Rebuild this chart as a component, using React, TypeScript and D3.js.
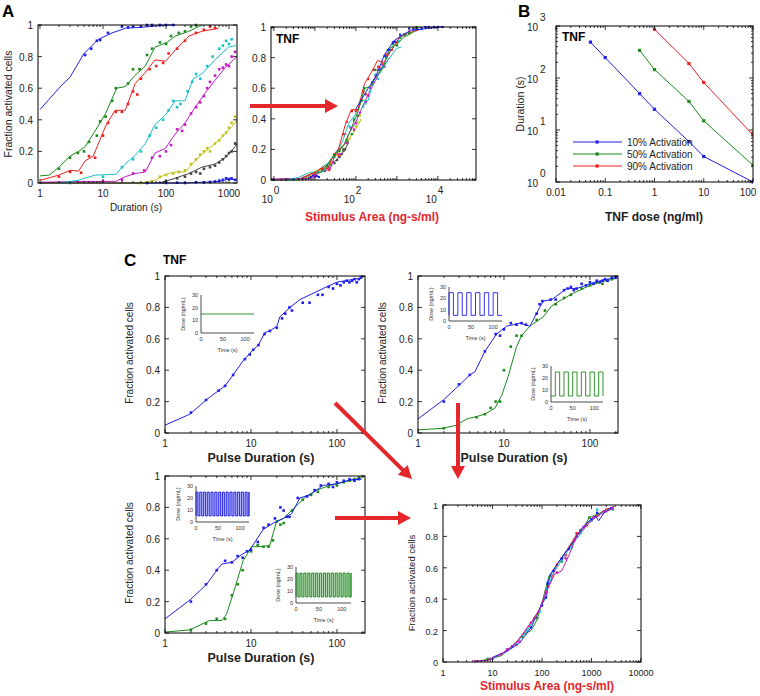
import React from "react";
import * as d3 from "d3";

type Pt = [number, number];
type Lbl = { v: number; t: string; sup?: string };

const FONT = "'Liberation Sans', Arial, Helvetica, sans-serif";
const RED = "#e5262b";
const BLUE = "#2020e8";
const GREEN = "#1b8a1b";
const CRED = "#ee2020";
const CYAN = "#1cc0c8";
const MAGENTA = "#c41cc4";
const YELLOW = "#c2c21a";
const BLACK = "#444444";

// ---------------- Panel A: fraction activated vs duration (8 TNF doses, ng/ml) ----------------
const aDoses = [100, 10, 5, 1, 0.5, 0.1, 0.05, 0.01];
const aColors = [BLUE, GREEN, CRED, CYAN, MAGENTA, YELLOW, BLACK, BLUE];

const aLineBlueHi: Pt[] = [[1, 0.465], [2, 0.6], [3, 0.67], [5, 0.82], [8.5, 0.91], [14, 0.95], [23, 0.98], [40, 0.985], [100, 1.0], [140, 1.0]];
const aDotsBlueHi: Pt[] = [[5.2, 0.81], [6.5, 0.85], [8, 0.9], [9, 0.905], [12, 0.95], [20, 0.99], [25, 0.985], [30, 0.99], [40, 0.99], [50, 1], [60, 1], [80, 1], [100, 1], [130, 1]];
const aLineGreen: Pt[] = [[1, 0.045], [1.4, 0.05], [2, 0.1], [3, 0.17], [4.1, 0.2], [5.2, 0.23], [7.5, 0.33], [11, 0.44], [16.5, 0.6], [22.5, 0.61], [32, 0.68], [47, 0.74], [67, 0.86], [104, 0.89], [140, 0.93], [230, 0.96], [370, 1.0]];
const aDotsGreen: Pt[] = [[2, 0.09], [3, 0.16], [4, 0.19], [5, 0.2], [6, 0.26], [8, 0.3], [9, 0.39], [11, 0.42], [14, 0.52], [16, 0.6], [25, 0.63], [30, 0.72], [38, 0.72], [50, 0.81], [60, 0.85], [80, 0.89], [100, 0.88], [120, 0.93], [160, 0.95], [200, 0.96], [250, 0.99], [300, 1.0]];
const aLineRed: Pt[] = [[1, 0.017], [2, 0.05], [3, 0.08], [4.1, 0.075], [5.2, 0.14], [7, 0.17], [11, 0.36], [15.5, 0.46], [22.5, 0.46], [32.5, 0.63], [47, 0.7], [67, 0.78], [98, 0.77], [140, 0.84], [230, 0.93], [370, 0.96], [680, 0.98]];
const aDotsRed: Pt[] = [[2, 0.04], [3, 0.07], [4.5, 0.065], [6, 0.17], [7.5, 0.16], [10, 0.3], [12, 0.38], [16, 0.45], [20, 0.45], [25, 0.5], [30, 0.58], [35, 0.56], [40, 0.66], [55, 0.72], [70, 0.74], [90, 0.76], [110, 0.82], [150, 0.85], [200, 0.9], [300, 0.95], [400, 0.97], [500, 0.99], [600, 0.98]];
const aLineCyan: Pt[] = [[2, 0], [4, 0.017], [7.5, 0.05], [16, 0.055], [22.5, 0.12], [32.5, 0.175], [47, 0.25], [67, 0.37], [98, 0.43], [140, 0.52], [200, 0.52], [270, 0.66], [370, 0.69], [600, 0.78], [980, 0.86], [1300, 0.87]];
const aDotsCyan: Pt[] = [[3, 0], [10, 0.04], [20, 0.1], [30, 0.15], [40, 0.2], [55, 0.3], [70, 0.35], [90, 0.4], [110, 0.46], [130, 0.52], [150, 0.48], [170, 0.5], [220, 0.58], [260, 0.64], [300, 0.69], [350, 0.66], [450, 0.74], [550, 0.8], [700, 0.85], [800, 0.87], [900, 0.9], [1000, 0.88], [1100, 0.91]];
const aLineMagenta: Pt[] = [[1, 0.005], [5, 0.01], [16, 0.01], [22.5, 0.04], [32.5, 0.06], [47, 0.07], [67, 0.19], [98, 0.22], [140, 0.31], [200, 0.38], [290, 0.48], [420, 0.57], [600, 0.65], [870, 0.73], [1250, 0.79], [1340, 0.8]];
const aDotsMagenta: Pt[] = [[10, 0.01], [20, 0.02], [30, 0.06], [45, 0.08], [60, 0.16], [80, 0.17], [100, 0.2], [120, 0.24], [150, 0.34], [180, 0.33], [200, 0.37], [250, 0.44], [300, 0.48], [350, 0.51], [400, 0.55], [450, 0.6], [500, 0.64], [600, 0.68], [700, 0.72], [800, 0.73], [900, 0.75], [1000, 0.74], [1100, 0.8], [1250, 0.83]];
const aLineYellow: Pt[] = [[1, 0], [30, 0], [47, 0.005], [67, 0.017], [98, 0.055], [140, 0.07], [200, 0.07], [290, 0.14], [420, 0.2], [600, 0.25], [870, 0.31], [1250, 0.38], [1340, 0.4]];
const aDotsYellow: Pt[] = [[40, 0], [60, 0.01], [80, 0.04], [100, 0.05], [130, 0.06], [160, 0.07], [200, 0.08], [250, 0.12], [300, 0.15], [350, 0.18], [400, 0.2], [450, 0.22], [500, 0.2], [600, 0.25], [700, 0.27], [800, 0.3], [900, 0.32], [1000, 0.35], [1100, 0.38], [1250, 0.42]];
const aLineBlack: Pt[] = [[80, 0], [140, 0.03], [230, 0.06], [370, 0.1], [600, 0.12], [870, 0.16], [1250, 0.23], [1340, 0.25]];
const aDotsBlack: Pt[] = [[100, 0.01], [150, 0.03], [200, 0.04], [250, 0.06], [300, 0.07], [350, 0.06], [400, 0.09], [500, 0.1], [600, 0.11], [700, 0.13], [800, 0.15], [900, 0.17], [1000, 0.19], [1100, 0.2], [1250, 0.25]];
const aLineBlueLo: Pt[] = [[1, 0], [200, 0], [400, 0.005], [700, 0.01], [1000, 0.025], [1340, 0.02]];
const aDotsBlueLo: Pt[] = [[50, 0], [100, 0], [150, 0.002], [200, 0], [300, 0.005], [400, 0.004], [500, 0.006], [600, 0.01], [700, 0.015], [800, 0.02], [900, 0.03], [1000, 0.025], [1100, 0.03], [1250, 0.02]];

const aLines = [aLineBlueHi, aLineGreen, aLineRed, aLineCyan, aLineMagenta, aLineYellow, aLineBlack, aLineBlueLo];
const aDots = [aDotsBlueHi, aDotsGreen, aDotsRed, aDotsCyan, aDotsMagenta, aDotsYellow, aDotsBlack, aDotsBlueLo];

// ---------------- Panel B: duration needed vs TNF dose ----------------
const bDose10 = [0.05, 0.1, 0.5, 1, 5, 10, 100];
const bDur10 = [490, 247, 50, 25, 6, 3.1, 1];
const bDose50 = [0.5, 1, 5, 10, 100];
const bDur50 = [340, 145, 35.5, 15, 2.1];
const bDose90 = [1, 5, 10, 100];
const bDur90 = [865, 190, 82, 8];
const bLegend = ["10% Activation", "50% Activation", "90% Activation"];

// ---------------- Panel C: pulse duration ----------------
const cTLBlue: Pt[] = [[1, 0.05], [1.95, 0.12], [3, 0.21], [4.2, 0.27], [5, 0.3], [6.2, 0.37], [8.1, 0.46], [10.6, 0.53], [12.2, 0.56], [14.5, 0.64], [16.6, 0.65], [20, 0.68], [21.7, 0.74], [28.5, 0.8], [37, 0.85], [48.5, 0.88], [69, 0.92], [99, 0.96], [141, 0.975], [186, 0.985]];
const cTLBlueDots: Pt[] = [[2, 0.13], [3, 0.21], [4.2, 0.27], [5, 0.3], [6.2, 0.37], [8.5, 0.47], [9.7, 0.5], [10.6, 0.53], [12.2, 0.56], [14.4, 0.63], [16.6, 0.65], [20, 0.67], [23, 0.73], [25, 0.76], [28, 0.8], [30, 0.78], [40, 0.83], [48, 0.83], [60, 0.88], [68, 0.88], [80, 0.93], [90, 0.92], [100, 0.95], [110, 0.94], [120, 0.96], [130, 0.97], [140, 0.96], [150, 0.97], [160, 0.98], [170, 0.96], [180, 0.98], [190, 0.99]];
const cTRBlue: Pt[] = [[1, 0.09], [1.97, 0.21], [3.1, 0.31], [4, 0.37], [4.6, 0.39], [6, 0.52], [8.2, 0.63], [10.7, 0.68], [15.4, 0.7], [20, 0.68], [26, 0.8], [28.6, 0.84], [36, 0.85], [53.5, 0.92], [70, 0.92], [100, 0.95], [143, 0.975], [204, 0.99]];
const cTRBlueDots: Pt[] = [[2, 0.2], [3, 0.31], [4, 0.37], [6, 0.52], [8, 0.63], [9, 0.62], [10, 0.66], [12, 0.7], [14, 0.69], [16, 0.7], [18, 0.69], [24, 0.76], [26, 0.82], [28, 0.84], [35, 0.85], [40, 0.85], [50, 0.91], [55, 0.92], [60, 0.93], [65, 0.91], [70, 0.92], [80, 0.95], [90, 0.94], [100, 0.96], [110, 0.95], [120, 0.97], [130, 0.96], [140, 0.97], [150, 0.98], [160, 0.97], [180, 0.99], [200, 0.99]];
const cTRGreen: Pt[] = [[1, 0.02], [1.97, 0.03], [2.8, 0.05], [3.7, 0.09], [4.8, 0.105], [6, 0.12], [7.9, 0.16], [9.4, 0.24], [11.2, 0.36], [14, 0.55], [16, 0.62], [20, 0.68], [28.6, 0.74], [36, 0.81], [47, 0.85], [64, 0.89], [100, 0.94], [143, 0.965], [204, 0.985]];
const cTRGreenDots: Pt[] = [[2, 0.03], [3, 0.05], [4.8, 0.1], [6, 0.12], [7, 0.16], [8, 0.2], [9, 0.2], [10, 0.4], [12, 0.55], [14, 0.62], [16, 0.62], [24, 0.72], [30, 0.78], [40, 0.82], [50, 0.86], [60, 0.88], [80, 0.92], [100, 0.94], [120, 0.96], [140, 0.95], [160, 0.97], [180, 0.98], [200, 0.99]];
const cBLBlue: Pt[] = [[1, 0.09], [1.95, 0.21], [3.05, 0.31], [4, 0.4], [4.6, 0.44], [6, 0.45], [7.8, 0.5], [9.7, 0.53], [13.9, 0.66], [18.2, 0.7], [23.9, 0.73], [29.7, 0.76], [37, 0.86], [48.5, 0.88], [69, 0.94], [99, 0.95], [141, 0.975], [194, 0.98]];
const cBLBlueDots: Pt[] = [[2, 0.2], [3, 0.31], [4, 0.4], [5, 0.46], [6, 0.45], [7, 0.49], [8, 0.48], [9, 0.52], [10, 0.53], [12, 0.58], [14, 0.67], [16, 0.69], [19, 0.73], [22, 0.8], [24, 0.78], [26, 0.74], [28, 0.74], [35, 0.86], [45, 0.87], [55, 0.91], [65, 0.94], [80, 0.95], [90, 0.93], [100, 0.96], [120, 0.97], [140, 0.98], [160, 0.97], [180, 0.98]];
const cBLGreen: Pt[] = [[1, 0.006], [1.95, 0.02], [3.3, 0.08], [4.6, 0.08], [5.2, 0.12], [6.2, 0.25], [8.1, 0.46], [10.2, 0.55], [13.9, 0.55], [16.6, 0.56], [19.8, 0.71], [23.9, 0.73], [31, 0.79], [44, 0.87], [58, 0.91], [83, 0.94], [118, 0.96], [194, 0.99]];
const cBLGreenDots: Pt[] = [[2, 0.02], [3, 0.06], [4, 0.09], [5, 0.09], [6, 0.24], [7, 0.31], [8, 0.4], [10, 0.52], [12, 0.56], [14, 0.55], [16, 0.55], [18, 0.59], [20, 0.71], [22, 0.69], [24, 0.7], [30, 0.78], [40, 0.85], [50, 0.88], [60, 0.9], [80, 0.93], [100, 0.94], [120, 0.96], [140, 0.97], [160, 0.98], [180, 0.99]];

// collapse in C: fraction vs stimulus area (ng-s/ml)
const collBlue: Pt[] = [[10, 0.03], [20, 0.07], [35, 0.12], [60, 0.22], [100, 0.37], [125, 0.42], [130, 0.5], [150, 0.56], [200, 0.62], [300, 0.7], [400, 0.75], [600, 0.84], [900, 0.9], [1200, 0.93], [1400, 0.9], [1800, 0.95], [2500, 0.98]];
const collGreen: Pt[] = [[5, 0.005], [9, 0.02], [15, 0.04], [25, 0.1], [40, 0.17], [60, 0.2], [80, 0.27], [100, 0.38], [140, 0.55], [200, 0.62], [300, 0.7], [450, 0.78], [700, 0.86], [900, 0.92], [1300, 0.94], [2000, 0.97], [2800, 0.99]];
const collRed: Pt[] = [[8, 0.01], [15, 0.05], [25, 0.1], [40, 0.17], [60, 0.25], [90, 0.34], [130, 0.47], [200, 0.62], [300, 0.7], [500, 0.81], [800, 0.88], [1200, 0.93], [2000, 0.97], [2800, 0.99]];
const collCyan: Pt[] = [[10, 0.02], [20, 0.07], [30, 0.12], [50, 0.2], [80, 0.3], [110, 0.4], [140, 0.53], [200, 0.6], [350, 0.72], [550, 0.8], [900, 0.89], [1400, 0.94], [2200, 0.97], [2800, 0.98]];
const collMagenta: Pt[] = [[4.5, 0.005], [8, 0.01], [15, 0.05], [30, 0.12], [50, 0.22], [80, 0.3], [120, 0.44], [180, 0.56], [250, 0.58], [350, 0.68], [500, 0.8], [800, 0.87], [1300, 0.93], [2000, 0.96], [2800, 0.98]];
const collBlueDots: Pt[] = [[25, 0.1], [60, 0.22], [100, 0.36], [120, 0.41], [130, 0.5], [170, 0.58], [250, 0.66], [350, 0.72], [500, 0.8], [700, 0.86], [1000, 0.91], [1300, 0.95], [1800, 0.96], [2500, 0.98]];
const collGreenDots: Pt[] = [[8, 0.02], [20, 0.08], [40, 0.16], [80, 0.28], [150, 0.55], [250, 0.64], [400, 0.75], [600, 0.84], [900, 0.92], [1400, 0.94], [2200, 0.97]];
const collRedDots: Pt[] = [[15, 0.05], [30, 0.11], [60, 0.25], [120, 0.45], [200, 0.62], [300, 0.68], [500, 0.82], [800, 0.87], [1300, 0.93], [2000, 0.97], [2700, 0.98]];
const collCyanDots: Pt[] = [[10, 0.02], [30, 0.12], [50, 0.2], [90, 0.32], [130, 0.5], [150, 0.52], [250, 0.65], [400, 0.73], [600, 0.82], [1000, 0.9], [1300, 0.97], [2000, 0.96], [2700, 0.97]];
const collMagentaDots: Pt[] = [[4.5, 0.005], [9, 0.02], [20, 0.08], [35, 0.13], [70, 0.28], [120, 0.44], [200, 0.57], [300, 0.66], [450, 0.78], [700, 0.86], [1100, 0.92], [1800, 0.96], [2600, 0.98]];
const collLines = [collGreen, collRed, collCyan, collBlue, collMagenta];
const collDots = [collGreenDots, collRedDots, collCyanDots, collBlueDots, collMagentaDots];
const collColors = [GREEN, CRED, CYAN, BLUE, MAGENTA];

const fracTicks = [0, 0.2, 0.4, 0.6, 0.8, 1];
const durLabels = [1, 10, 100, 1000];
const pulseLabels = [1, 10, 100];
const areaLabels = [1, 10, 100, 1000, 10000];
const doseLabels = ["0.01", "0.1", "1", "10", "100"];

// inset dose schedules (ng/mL vs time s)
const insetTicksY = [0, 10, 20, 30];
const insetTicksX = [0, 50, 100];

// ---------------- helpers ----------------
function decades(dom: [number, number]) {
  const lo = Math.ceil(Math.log10(dom[0]) - 1e-9);
  const hi = Math.floor(Math.log10(dom[1]) + 1e-9);
  return d3.range(lo, hi + 1).map((e) => Math.pow(10, e));
}
function minors(dom: [number, number]) {
  const out: number[] = [];
  const lo = Math.floor(Math.log10(dom[0]));
  const hi = Math.ceil(Math.log10(dom[1]));
  for (let e = lo; e <= hi; e++)
    for (let k = 2; k <= 9; k++) {
      const v = k * Math.pow(10, e);
      if (v > dom[0] && v < dom[1]) out.push(v);
    }
  return out;
}

type PanelProps = {
  id: string;
  x: number; y: number; w: number; h: number;
  xDomain: [number, number]; yDomain: [number, number]; yLog?: boolean;
  xLabels: Lbl[]; yLabels: Lbl[];
  fs: number;
  xLabelMax?: number;
  children: (sx: any, sy: any) => React.ReactNode;
};

function Panel(p: PanelProps) {
  const { id, x, y, w, h, xDomain, yDomain, yLog, fs } = p;
  const sx = d3.scaleLog().domain(xDomain).range([x, x + w]);
  const sy: any = (yLog ? d3.scaleLog() : d3.scaleLinear()).domain(yDomain).range([y + h, y]);
  const xMaj = decades(xDomain);
  const xMin = minors(xDomain);
  const yMaj = yLog ? decades(yDomain) : p.yLabels.map((l) => l.v);
  const yMin = yLog ? minors(yDomain) : [];
  const tk = 4, tm = 2;
  const lx = (v: number) => (p.xLabelMax !== undefined ? Math.min(sx(v), p.xLabelMax) : sx(v));
  return (
    <g>
      <defs>
        <clipPath id={id}>
          <rect x={x} y={y - 2} width={w} height={h + 4} />
        </clipPath>
      </defs>
      <g clipPath={`url(#${id})`}>{p.children(sx, sy)}</g>
      <rect x={x} y={y} width={w} height={h} fill="none" stroke="#000" strokeWidth={1} />
      <g stroke="#000" strokeWidth={0.8}>
        {xMaj.map((v) => (
          <g key={"xM" + v}>
            <line x1={sx(v)} x2={sx(v)} y1={y + h} y2={y + h - tk} />
            <line x1={sx(v)} x2={sx(v)} y1={y} y2={y + tk} />
          </g>
        ))}
        {xMin.map((v) => (
          <g key={"xm" + v}>
            <line x1={sx(v)} x2={sx(v)} y1={y + h} y2={y + h - tm} />
            <line x1={sx(v)} x2={sx(v)} y1={y} y2={y + tm} />
          </g>
        ))}
        {yMaj.map((v) => (
          <g key={"yM" + v}>
            <line x1={x} x2={x + tk} y1={sy(v)} y2={sy(v)} />
            <line x1={x + w} x2={x + w - tk} y1={sy(v)} y2={sy(v)} />
          </g>
        ))}
        {yMin.map((v) => (
          <g key={"ym" + v}>
            <line x1={x} x2={x + tm} y1={sy(v)} y2={sy(v)} />
            <line x1={x + w} x2={x + w - tm} y1={sy(v)} y2={sy(v)} />
          </g>
        ))}
      </g>
      <g fontSize={fs} fill="#222">
        {p.xLabels.map((l) =>
          l.sup !== undefined ? (
            <g key={"xl" + l.v}>
              <text x={sx(l.v) - 1} y={y + h + 23} textAnchor="end">{l.t}</text>
              <text x={sx(l.v)} y={y + h + 14} fontSize={fs}>{l.sup}</text>
            </g>
          ) : (
            <text key={"xl" + l.v} x={lx(l.v)} y={y + h + 14} textAnchor="middle">{l.t}</text>
          )
        )}
        {p.yLabels.map((l) =>
          l.sup !== undefined ? (
            <g key={"yl" + l.v}>
              <text x={x - 18} y={sy(l.v) + 5} textAnchor="end">{l.t}</text>
              <text x={x - 16} y={sy(l.v) - 5} fontSize={fs}>{l.sup}</text>
            </g>
          ) : (
            <text key={"yl" + l.v} x={x - 5} y={sy(l.v) + 4} textAnchor="end">{l.t}</text>
          )
        )}
      </g>
    </g>
  );
}

function Series({ sx, sy, line, dots, color, r = 1.3 }: { sx: any; sy: any; line: Pt[]; dots?: Pt[]; color: string; r?: number }) {
  const gen = d3.line<Pt>().x((d) => sx(d[0])).y((d) => sy(d[1]));
  return (
    <g>
      <path d={gen(line) || ""} fill="none" stroke={color} strokeWidth={1} />
      {(dots || []).map((d, i) => (
        <rect key={i} x={sx(d[0]) - r} y={sy(d[1]) - r} width={2 * r} height={2 * r} fill={color} />
      ))}
    </g>
  );
}

type InsetSpec = { x: number; yb: number; w: number; h: number; color: string; steady?: number; high?: number; low?: number; period?: number; startHigh?: boolean; band?: boolean };

function Inset({ s }: { s: InsetSpec }) {
  const tx = d3.scaleLinear().domain([0, 120]).range([s.x, s.x + s.w]);
  const ty = d3.scaleLinear().domain([0, 30]).range([s.yb, s.yb - s.h]);
  let pts: Pt[] = [];
  if (s.steady !== undefined) {
    pts = [[0, s.steady], [120, s.steady]];
  } else {
    const half = (s.period as number) / 2;
    let on = !!s.startHigh;
    pts.push([0, s.low as number]);
    for (let t = 0; t < 120 - 1e-6; t += half) {
      const lv = on ? (s.high as number) : (s.low as number);
      const te = Math.min(120, t + half);
      pts.push([t, lv]);
      pts.push([te, lv]);
      on = !on;
    }
    pts.push([120, s.low as number]);
  }
  const gen = d3.line<Pt>().x((d) => tx(d[0])).y((d) => ty(d[1]));
  return (
    <g fontSize={5.5} fill="#333">
      {s.band && (
        <rect x={tx(0)} y={ty(s.high as number)} width={tx(120) - tx(0)} height={ty(s.low as number) - ty(s.high as number)} fill={s.color} opacity={0.28} />
      )}
      <line x1={s.x} x2={s.x} y1={s.yb} y2={s.yb - s.h} stroke="#000" strokeWidth={0.7} />
      <line x1={s.x} x2={s.x + s.w} y1={s.yb} y2={s.yb} stroke="#000" strokeWidth={0.7} />
      {insetTicksY.map((v) => (
        <text key={"y" + v} x={s.x - 3} y={ty(v) + 2} textAnchor="end">{v}</text>
      ))}
      {insetTicksX.map((v) => (
        <text key={"x" + v} x={tx(v)} y={s.yb + 8} textAnchor="middle">{v}</text>
      ))}
      <text x={tx(60)} y={s.yb + 19} textAnchor="middle">Time (s)</text>
      <text transform={`translate(${s.x - 16},${s.yb - s.h / 2}) rotate(-90)`} textAnchor="middle">Dose (ng/mL)</text>
      <path d={gen(pts) || ""} fill="none" stroke={s.color} strokeWidth={0.9} />
    </g>
  );
}

function Arrow({ x1, y1, x2, y2 }: { x1: number; y1: number; x2: number; y2: number }) {
  const L = Math.hypot(x2 - x1, y2 - y1);
  const ux = (x2 - x1) / L, uy = (y2 - y1) / L;
  const hl = 13, hw = 7;
  const bx = x2 - ux * hl, by = y2 - uy * hl;
  const px = -uy, py = ux;
  return (
    <g>
      <line x1={x1} y1={y1} x2={bx + ux} y2={by + uy} stroke={RED} strokeWidth={4} />
      <polygon points={`${x2},${y2} ${bx + px * hw},${by + py * hw} ${bx - px * hw},${by - py * hw}`} fill={RED} />
    </g>
  );
}

const fracLabels: Lbl[] = fracTicks.map((v) => ({ v, t: String(v) }));

export default function App() {
  const yLab = (x: number, y: number, fs: number, txt: string) => (
    <text transform={`translate(${x},${y}) rotate(-90)`} textAnchor="middle" fontSize={fs} fill="#222">{txt}</text>
  );
  return (
    <svg width={760} height={696} style={{ position: "absolute", left: 0, top: 0, background: "#fff" }} fontFamily={FONT}>
      <rect width={760} height={696} fill="#fff" />
      {/* Panel labels */}
      <text x={2} y={17} fontSize={17} fontWeight="bold">A</text>
      <text x={518} y={17} fontSize={17} fontWeight="bold">B</text>
      <text x={124} y={266} fontSize={17} fontWeight="bold">C</text>

      {/* A left */}
      <Panel id="aL" x={38} y={25} w={199} h={158} xDomain={[0.93, 1340]} yDomain={[0, 1]} fs={10}
        xLabels={durLabels.map((v) => ({ v, t: String(v) }))} yLabels={fracLabels}>
        {(sx, sy) => aLines.map((l, i) => <Series key={i} sx={sx} sy={sy} line={l} dots={aDots[i]} color={aColors[i]} />).reverse()}
      </Panel>
      {yLab(12, 104, 10.5, "Fraction activated cells")}
      <text x={136} y={211} fontSize={10} textAnchor="middle" fill="#222">Duration (s)</text>

      {/* A middle: collapse */}
      <Panel id="aM" x={271} y={27} w={205} h={153} xDomain={[0.851, 85114]} yDomain={[0, 1]} fs={10}
        xLabels={[0, 2, 4].map((e) => ({ v: Math.pow(10, e), t: "10", sup: String(e) }))} yLabels={fracLabels}>
        {(sx, sy) =>
          aLines.map((l, i) => (
            <Series key={i} sx={sx} sy={sy}
              line={l.map((d) => [d[0] * aDoses[i], d[1]] as Pt)}
              dots={aDots[i].map((d) => [d[0] * aDoses[i], d[1]] as Pt)}
              color={aColors[i]} r={1.1} />
          )).reverse()
        }
      </Panel>
      <text x={276} y={43} fontSize={12} fontWeight="bold">TNF</text>
      <text x={372} y={221} fontSize={12} fontWeight="bold" fill={RED} textAnchor="middle">Stimulus Area (ng-s/ml)</text>
      <Arrow x1={250} y1={106} x2={338} y2={106} />

      {/* B */}
      <Panel id="b" x={556} y={26} w={197} h={156} xDomain={[0.01, 100]} yDomain={[1, 1000]} yLog fs={10} xLabelMax={748}
        xLabels={doseLabels.map((t) => ({ v: +t, t }))}
        yLabels={[0, 1, 2, 3].map((e) => ({ v: Math.pow(10, e), t: "10", sup: String(e) }))}>
        {(sx, sy) => (
          <g>
            {[
              { xs: bDose90, ys: bDur90, c: CRED },
              { xs: bDose50, ys: bDur50, c: GREEN },
              { xs: bDose10, ys: bDur10, c: BLUE },
            ].map((s, i) => (
              <Series key={i} sx={sx} sy={sy} line={s.xs.map((v, j) => [v, s.ys[j]] as Pt)} dots={s.xs.map((v, j) => [v, s.ys[j]] as Pt)} color={s.c} r={1.6} />
            ))}
          </g>
        )}
      </Panel>
      <text x={562} y={41} fontSize={12} fontWeight="bold">TNF</text>
      {bLegend.map((t, i) => {
        const c = [BLUE, GREEN, CRED][i];
        const yy = 142 + i * 12;
        return (
          <g key={t}>
            <line x1={573} x2={622} y1={yy} y2={yy} stroke={c} strokeWidth={1} />
            <rect x={595.5} y={yy - 1.6} width={3.2} height={3.2} fill={c} />
            <text x={627} y={yy + 4} fontSize={10} fill="#222">{t}</text>
          </g>
        );
      })}
      {yLab(524, 104, 10.5, "Duration (s)")}
      <text x={654} y={221} fontSize={12} fontWeight="bold" textAnchor="middle" fill="#222">TNF dose (ng/ml)</text>

      {/* C */}
      <text x={163} y={264} fontSize={12} fontWeight="bold">TNF</text>

      {/* C top-left */}
      <Panel id="cTL" x={165} y={276} w={200} h={157} xDomain={[1, 212]} yDomain={[0, 1]} fs={10}
        xLabels={pulseLabels.map((v) => ({ v, t: String(v) }))} yLabels={fracLabels}>
        {(sx, sy) => <Series sx={sx} sy={sy} line={cTLBlue} dots={cTLBlueDots} color={BLUE} />}
      </Panel>
      <Inset s={{ x: 201, yb: 333, w: 53, h: 38, color: GREEN, steady: 15 }} />
      {yLab(133, 353, 10, "Fraction activated cells")}
      <text x={261} y={462} fontSize={12.5} fontWeight="bold" textAnchor="middle" fill="#222">Pulse Duration (s)</text>

      {/* C top-right */}
      <Panel id="cTR" x={418} y={276} w={200} h={157} xDomain={[1, 212]} yDomain={[0, 1]} fs={10}
        xLabels={pulseLabels.map((v) => ({ v, t: String(v) }))} yLabels={fracLabels}>
        {(sx, sy) => (
          <g>
            <Series sx={sx} sy={sy} line={cTRGreen} dots={cTRGreenDots} color={GREEN} />
            <Series sx={sx} sy={sy} line={cTRBlue} dots={cTRBlueDots} color={BLUE} />
          </g>
        )}
      </Panel>
      <Inset s={{ x: 449, yb: 321, w: 53, h: 34, color: BLUE, high: 25, low: 5, period: 20, startHigh: true }} />
      <Inset s={{ x: 551, yb: 402, w: 52, h: 36, color: GREEN, high: 25, low: 5, period: 20, startHigh: false }} />
      {yLab(386, 353, 10, "Fraction activated cells")}
      <text x={514} y={462} fontSize={12.5} fontWeight="bold" textAnchor="middle" fill="#222">Pulse Duration (s)</text>

      {/* C bottom-left */}
      <Panel id="cBL" x={165} y={476} w={200} h={157} xDomain={[1, 212]} yDomain={[0, 1]} fs={10}
        xLabels={pulseLabels.map((v) => ({ v, t: String(v) }))} yLabels={fracLabels}>
        {(sx, sy) => (
          <g>
            <Series sx={sx} sy={sy} line={cBLGreen} dots={cBLGreenDots} color={GREEN} />
            <Series sx={sx} sy={sy} line={cBLBlue} dots={cBLBlueDots} color={BLUE} />
          </g>
        )}
      </Panel>
      <Inset s={{ x: 196, yb: 522, w: 53, h: 36, color: BLUE, high: 25, low: 5, period: 8.57, startHigh: true, band: true }} />
      <Inset s={{ x: 296, yb: 603, w: 55, h: 36, color: GREEN, high: 25, low: 5, period: 8.57, startHigh: true, band: true }} />
      {yLab(133, 553, 10, "Fraction activated cells")}
      <text x={261} y={662} fontSize={12.5} fontWeight="bold" textAnchor="middle" fill="#222">Pulse Duration (s)</text>

      {/* C bottom-right collapse */}
      <Panel id="cBR" x={443} y={505} w={198} h={157} xDomain={[1, 10000]} yDomain={[0, 1]} fs={9}
        xLabels={areaLabels.map((v) => ({ v, t: String(v) }))} yLabels={fracLabels}>
        {(sx, sy) => collLines.map((l, i) => <Series key={i} sx={sx} sy={sy} line={l} dots={collDots[i]} color={collColors[i]} r={1.2} />)}
      </Panel>
      {yLab(415, 583, 9.5, "Fraction activated cells")}
      <text x={547} y={690} fontSize={12} fontWeight="bold" textAnchor="middle" fill={RED}>Stimulus Area (ng-s/ml)</text>

      {/* arrows */}
      <Arrow x1={335} y1={403} x2={412} y2={479} />
      <Arrow x1={458} y1={403} x2={458} y2={479} />
      <Arrow x1={335} y1={518} x2={411} y2={518} />
    </svg>
  );
}
